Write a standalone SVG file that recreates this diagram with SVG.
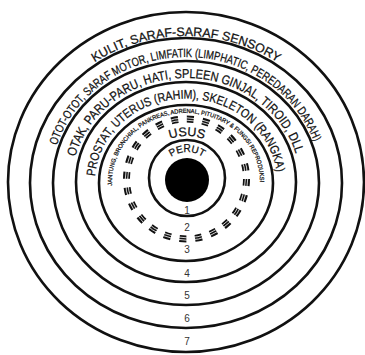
<svg xmlns="http://www.w3.org/2000/svg" width="365" height="355" viewBox="0 0 365 355">
<style>
.ring{fill:none;stroke:#111;stroke-width:2.6}
.lbl{font-family:"Liberation Sans",Arial,sans-serif;fill:#111;stroke:#111;stroke-width:0.25}
.num{font-family:"Liberation Sans",Arial,sans-serif;fill:#333;font-size:10px;text-anchor:middle}
</style>
<defs>
<path id="p7" d="M 26 182 A 160 146 0 0 1 346 182"/>
<path id="p6" d="M 56.9 145.5 A 135 125 0 0 1 315.1 145.5"/>
<path id="p5" d="M 75.4 156.8 A 114 104 0 0 1 296.6 156.8"/>
<path id="p4" d="M 95.2 176.2 A 91 83 0 0 1 276.8 176.2"/>
<path id="p3" d="M 112.1 185.6 A 74 69 0 1 1 259.9 185.6"/>
<path id="pu" d="M 142 162 A 52 52 0 0 1 232 162"/>
<path id="pp" d="M 159 180 A 28 28 0 0 1 215 180"/>
</defs>
<rect width="365" height="355" fill="#fff"/>
<g id="ring7">
<ellipse class="ring" cx="186" cy="182" rx="178" ry="170"/>
<text class="lbl" font-size="12.5"><textPath href="#p7" startOffset="50%" text-anchor="middle">KULIT, SARAF-SARAF SENSORY</textPath></text>
<text class="num" x="187" y="345">7</text>
</g>
<g id="ring6">
<ellipse class="ring" cx="186" cy="183" rx="156" ry="145"/>
<text class="lbl" font-size="12"><textPath href="#p6" textLength="330" lengthAdjust="spacingAndGlyphs">OTOT-OTOT, SARAF MOTOR, LIMFATIK (LIMPHATIC, PEREDARAN DARAH)</textPath></text>
<text class="num" x="187" y="322">6</text>
</g>
<g id="ring5">
<ellipse class="ring" cx="186" cy="183" rx="133" ry="122"/>
<text class="lbl" font-size="13"><textPath href="#p5" textLength="288" lengthAdjust="spacingAndGlyphs">OTAK, PARU-PARU, HATI, SPLEEN GINJAL, TIROID, DLL</textPath></text>
<text class="num" x="187" y="299">5</text>
</g>
<g id="ring4">
<ellipse class="ring" cx="186" cy="182" rx="110" ry="100"/>
<text class="lbl" font-size="12.5"><textPath href="#p4" textLength="258" lengthAdjust="spacingAndGlyphs">PROSTAT, UTERUS (RAHIM), SKELETON (RANGKA)</textPath></text>
<text class="num" x="187" y="277">4</text>
</g>
<g id="ring3">
<ellipse class="ring" cx="186" cy="183" rx="87" ry="78"/>
<text class="lbl" font-size="6" stroke-width="0.1"><textPath href="#p3" textLength="228" lengthAdjust="spacingAndGlyphs">JANTUNG, BRONCHIAL, PANKREAS, ADRENAL, PITUITARY &amp; FUNGSI REPRODUKSI</textPath></text>
<text class="num" x="187" y="253">3</text>
</g>
<g id="ring2">
<circle cx="186.5" cy="179" r="60" fill="none" stroke="#111" stroke-width="7" stroke-dasharray="7 8.7"/>
<circle cx="186.5" cy="179" r="58.8" fill="none" stroke="#fff" stroke-width="0.8"/>
<circle cx="186.5" cy="179" r="61.2" fill="none" stroke="#fff" stroke-width="0.8"/>
<text class="lbl" font-size="12.5"><textPath href="#pu" startOffset="50%" text-anchor="middle">USUS</textPath></text>
<text class="num" x="187" y="231">2</text>
</g>
<g id="ring1">
<circle class="ring" cx="187" cy="178" r="38"/>
<text class="lbl" font-size="10"><textPath href="#pp" startOffset="50%" text-anchor="middle">PERUT</textPath></text>
<text class="num" x="187" y="214">1</text>
</g>
<g id="core">
<circle cx="187" cy="180" r="22" fill="#000"/>
</g>
<g id="connectors"/>
</svg>
